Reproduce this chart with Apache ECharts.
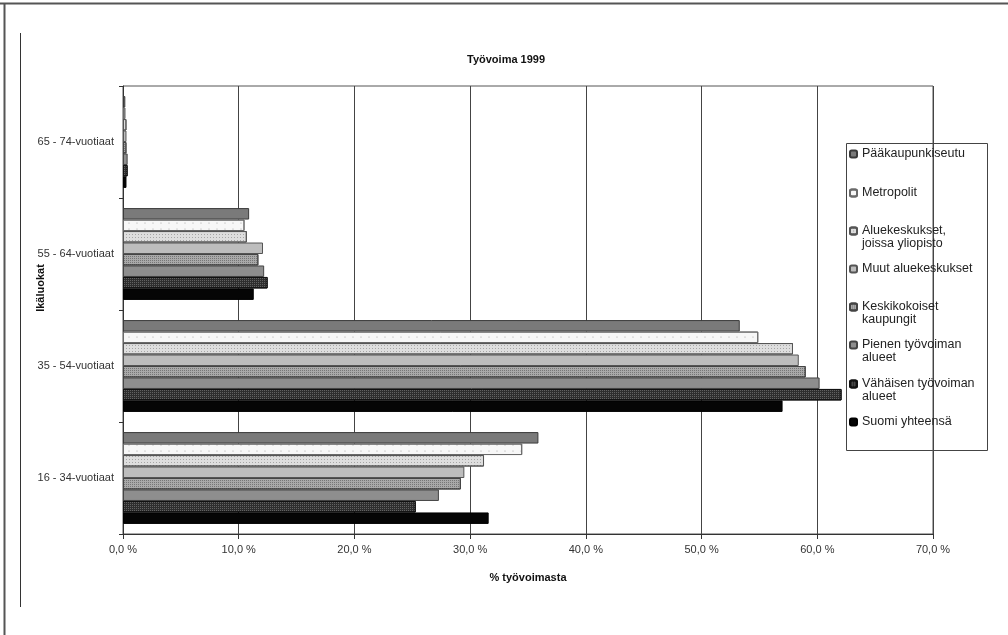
<!DOCTYPE html>
<html><head><meta charset="utf-8">
<script src="https://cdn.jsdelivr.net/npm/echarts@6/dist/echarts.min.js"></script>
<style>html,body{margin:0;padding:0;background:#fff}#c{width:1008px;height:635px}</style>
</head><body><div id="c"></div>
<script>
const categories = ['16 - 34-vuotiaat','35 - 54-vuotiaat','55 - 64-vuotiaat','65 - 74-vuotiaat'];
const seriesNames = ['Pääkaupunkiseutu','Metropolit','Aluekeskukset,\njoissa yliopisto','Muut aluekeskukset','Keskikokoiset\nkaupungit','Pienen työvoiman\nalueet','Vähäisen työvoiman\nalueet','Suomi yhteensä'];
const paakaupunkiseutu = [35.9, 53.3, 10.9, 0.2];
const metropolit       = [34.5, 54.9, 10.5, 0.2];
const aluekeskYliop    = [31.2, 57.9, 10.7, 0.3];
const muutAluekesk     = [29.5, 58.4, 12.1, 0.3];
const keskikokoiset    = [29.2, 59.0, 11.7, 0.3];
const pienenTyov       = [27.3, 60.2, 12.2, 0.4];
const vahaisenTyov     = [25.3, 62.1, 12.5, 0.4];
const suomiYhteensa    = [31.6, 57.0, 11.3, 0.3];
const xTicks = [0,10,20,30,40,50,60,70];

const values = [paakaupunkiseutu, metropolit, aluekeskYliop, muutAluekesk, keskikokoiset, pienenTyov, vahaisenTyov, suomiYhteensa];
const styles = [
  {color:'#7a7a7a', borderColor:'#3a3a3a'},
  {color:'#f7f7f7', borderColor:'#6a6a6a', decal:{symbol:'circle', symbolSize:0.6, color:'rgba(0,0,0,0.35)', dashArrayX:[2,6], dashArrayY:[2,4]}},
  {color:'#dedede', borderColor:'#555', decal:{symbol:'rect', symbolSize:1, color:'rgba(0,0,0,0.25)', dashArrayX:[1,2], dashArrayY:[1,2]}},
  {color:'#bdbdbd', borderColor:'#555'},
  {color:'#a9a9a9', borderColor:'#444', decal:{symbol:'rect', symbolSize:1, color:'rgba(0,0,0,0.3)', dashArrayX:[1,1], dashArrayY:[1,1]}},
  {color:'#8e8e8e', borderColor:'#444'},
  {color:'#2e2e2e', borderColor:'#111', decal:{symbol:'rect', symbolSize:1, color:'rgba(255,255,255,0.25)', dashArrayX:[1,1], dashArrayY:[1,1]}},
  {color:'#050505', borderColor:'#000'}
];
const legendIconCenters = [154, 193, 231, 269, 307, 345, 384, 422];
const FONT = 'Liberation Sans, Arial, sans-serif';

const series = values.map((v,i)=>({
  name: seriesNames[i], type:'bar', data: v,
  barGap: '0%', barCategoryGap: '18%',
  itemStyle: Object.assign({borderWidth:1}, styles[i]),
  emphasis:{disabled:true}, animation:false
}));

const legends = seriesNames.map((n,i)=>{
  const two = n.indexOf('\n')>=0;
  return {
    data:[n], orient:'vertical', left:849, top:legendIconCenters[i] - (two ? 19.5 : 6.5),
    itemWidth:7, itemHeight:7, itemGap:0, padding:0, selectedMode:false,
    formatter: name => (name.indexOf('\n')>=0 ? '\n' + name : name),
    textStyle:{fontFamily:FONT, fontSize:12.5, color:'#222', lineHeight:13}
  };
});

const chart = echarts.init(document.getElementById('c'), null, {renderer:'canvas'});
chart.setOption({
  animation:false,
  backgroundColor:'#fff',
  title:{text:'Työvoima 1999', left:462, top:49, textStyle:{fontFamily:FONT, fontSize:11, fontWeight:'bold', color:'#111'}},
  legend: legends,
  grid:{left:123, right:75, top:86, bottom:101, show:true, borderColor:'#555', borderWidth:1},
  xAxis:{type:'value', min:0, max:70, interval:10,
    name:'% työvoimasta', nameLocation:'middle', nameGap:38,
    nameTextStyle:{fontFamily:FONT, fontSize:11, fontWeight:'bold', color:'#111'},
    axisLine:{show:true, lineStyle:{color:'#333'}},
    axisTick:{show:true, length:5, lineStyle:{color:'#333'}},
    axisLabel:{fontFamily:FONT, fontSize:11, color:'#333', margin:10,
      formatter:v=>v.toFixed(1).replace('.',',')+' %'},
    splitLine:{show:true, lineStyle:{color:'#444', width:1}}
  },
  yAxis:{type:'category', data:categories,
    name:'Ikäluokat', nameLocation:'middle', nameGap:77, nameRotate:90, nameMoveOverlap:false,
    nameTextStyle:{fontFamily:FONT, fontSize:11, fontWeight:'bold', color:'#111', padding:[0,0,0,44]},
    axisLine:{show:true, lineStyle:{color:'#333'}},
    axisTick:{show:true, length:4, lineStyle:{color:'#333'}},
    axisLabel:{fontFamily:FONT, fontSize:11, color:'#333', margin:9},
    splitLine:{show:false}
  },
  graphic:[
    {type:'line', shape:{x1:0,y1:3.5,x2:1008,y2:3.5}, style:{stroke:'#555', lineWidth:2}},
    {type:'line', shape:{x1:4.5,y1:3,x2:4.5,y2:635}, style:{stroke:'#555', lineWidth:2}},
    {type:'line', shape:{x1:20.5,y1:33,x2:20.5,y2:607}, style:{stroke:'#333', lineWidth:1}},
    {type:'rect', shape:{x:846.5,y:143.5,width:141,height:307}, style:{fill:null, stroke:'#444', lineWidth:1}, z:-1}
  ],
  series: series
});
</script></body></html>
